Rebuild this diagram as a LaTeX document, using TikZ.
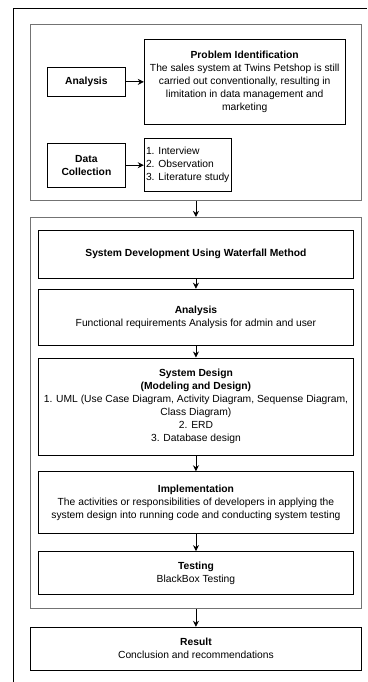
\documentclass[tikz,border=0pt]{standalone}
\usepackage{fontspec}
\setmainfont{Liberation Sans}
\usetikzlibrary{positioning, arrows.meta}

\begin{document}
\begin{tikzpicture}[x=1pt, y=1pt, node distance=10pt,
  font=\fontsize{10.3}{12.9}\selectfont,
  box/.style={rectangle, draw=black, line width=0.8pt, align=center, inner sep=1pt},
  group/.style={rectangle, draw=black!55, line width=0.9pt},
  arrow/.style={-{Stealth[length=6pt, width=6pt]}, line width=0.8pt}
]
\useasboundingbox (0,0) rectangle (367,-682);

% outer frame
\draw[line width=0.8pt] (13,-682) -- (13,-8) -- (367,-8);

% preparation stage
\node[group, minimum width=331pt, minimum height=176pt, anchor=north west] (prep) at (30,-24) {};
\node[box, minimum width=78pt, minimum height=29pt, anchor=north west] (analysis) at (47,-67) {\textbf{Analysis}};
\node[box, minimum width=201pt, minimum height=85pt, right=18pt of analysis] (problem)
  {\textbf{Problem Identification}\\The sales system at Twins Petshop is still\\carried out conventionally, resulting in\\limitation in data management and\\marketing};
\node[box, minimum width=78pt, minimum height=44pt, below=46pt of analysis] (datacoll) {\textbf{Data}\\\textbf{Collection}};
\node[box, minimum width=87pt, minimum height=53pt, align=left, right=18pt of datacoll] (methods)
  {1. Interview\\2. Observation\\3. Literature study};

\draw[arrow] (analysis) -- (analysis -| problem.west);
\draw[arrow] (datacoll) -- (datacoll -| methods.west);

% waterfall stage
\node[group, minimum width=331pt, minimum height=391pt, below=16pt of prep] (waterfall) {};
\node[box, minimum width=315pt, minimum height=48pt, below=13pt of waterfall.north] (develop)
  {\textbf{System Development Using Waterfall Method}};
\node[box, minimum width=315pt, minimum height=56pt, below=10pt of develop] (reqs)
  {\textbf{Analysis}\\Functional requirements Analysis for admin and user};
\node[box, minimum width=315pt, minimum height=97pt, below=12pt of reqs] (design)
  {\textbf{System Design}\\\textbf{(Modeling and Design)}\\1. UML (Use Case Diagram, Activity Diagram, Sequense Diagram,\\Class Diagram)\\2. ERD\\3. Database design};
\node[box, minimum width=315pt, minimum height=62pt, below=16pt of design] (implement)
  {\textbf{Implementation}\\The activities or responsibilities of developers in applying the\\system design into running code and conducting system testing};
\node[box, minimum width=315pt, minimum height=43pt, below=17pt of implement] (testing)
  {\textbf{Testing}\\BlackBox Testing};

\node[box, minimum width=331pt, minimum height=43pt, below=18pt of waterfall] (result)
  {\textbf{Result}\\Conclusion and recommendations};

\draw[arrow] (prep) -- (waterfall);
\draw[arrow] (develop) -- (reqs);
\draw[arrow] (reqs) -- (design);
\draw[arrow] (design) -- (implement);
\draw[arrow] (implement) -- (testing);
\draw[arrow] (waterfall) -- (result);

\end{tikzpicture}
\end{document}
